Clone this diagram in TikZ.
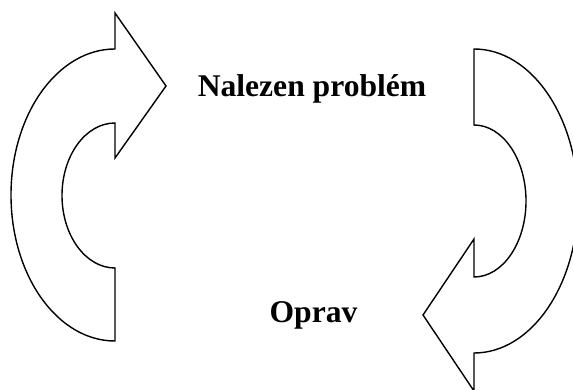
\documentclass[tikz,border=0pt]{standalone}
\usepackage{fontspec}
\setmainfont{Liberation Serif}
\tikzset{
  bentarrow/.style={draw=black, line width=1.05pt, fill=white, line join=miter},
  label/.style={font=\fontsize{23.7}{28}\selectfont\bfseries, anchor=base, inner sep=0pt}
}
\begin{document}
\begin{tikzpicture}[x=0.75pt,y=0.75pt]
\useasboundingbox (0,0) rectangle (573,389);
% left arrow
\draw[bentarrow] (115,340) -- (115,376) -- (166,303) -- (115,231) -- (115,266)
  arc[start angle=90, end angle=270, x radius=39.75pt, y radius=54.375pt]
  -- (115,48)
  arc[start angle=270, end angle=90, x radius=78pt, y radius=109.5pt]
  -- cycle;
% right arrow
\draw[bentarrow] (474,340)
  arc[start angle=90, end angle=-90, x radius=78pt, y radius=114pt]
  -- (474,-2) -- (423,74) -- (474,150) -- (474,112)
  arc[start angle=-90, end angle=90, x radius=39pt, y radius=57pt]
  -- cycle;
\node[label] (top) at (312,292) {Nalezen problém};
\node[label] (bot) at (313.5,67) {Oprav};
\end{tikzpicture}
\end{document}
